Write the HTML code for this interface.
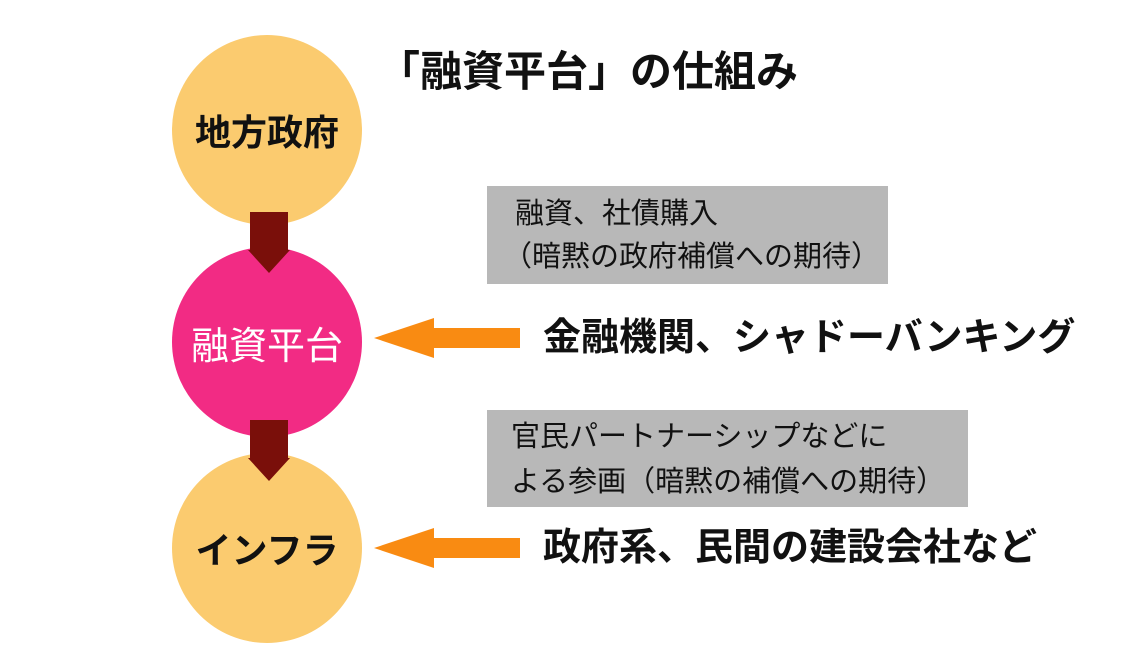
<!DOCTYPE html>
<html><head><meta charset="utf-8"><style>
body{margin:0;width:1143px;height:653px;background:#fff;position:relative;overflow:hidden;font-family:"Liberation Sans","Noto Sans CJK JP",sans-serif;}
.a{position:absolute;white-space:nowrap;}
.c{position:absolute;border-radius:50%;width:190px;height:190px;display:flex;align-items:center;justify-content:center;}
.box{position:absolute;background:#b8b8b8;}
.t{position:absolute;white-space:nowrap;font-size:29px;line-height:29px;color:#111;}
</style></head><body>
<div class="a" style="left:378px;top:47px;font-size:42px;font-weight:bold;line-height:50px;color:#111;">「融資平台」の仕組み</div>
<div class="c" style="left:172px;top:35px;background:#fbcb6f;font-size:36px;font-weight:bold;color:#111;">地方政府</div>
<div class="c" style="left:172px;top:247px;background:#f22b84;font-size:38px;color:#fff;">融資平台</div>
<div class="c" style="left:172px;top:453px;background:#fbcb6f;font-size:36px;font-weight:bold;color:#111;">インフラ</div>
<svg class="a" style="left:0;top:0" width="1143" height="653">
<polygon points="250,212 288,212 288,250 290,250 269,273 248,250 250,250" fill="#7a0f0a"/>
<polygon points="250,420 288,420 288,458 290,458 269,481 248,458 250,458" fill="#7a0f0a"/>
<polygon points="520,328 434,328 434,318 374,338 434,358 434,348 520,348" fill="#f98b12"/>
<polygon points="520,538 434,538 434,528 374,548 434,568 434,558 520,558" fill="#f98b12"/>
</svg>
<div class="box" style="left:487px;top:186px;width:401px;height:98px;"></div>
<div class="t" style="left:515px;top:200px;">融資、社債購入</div>
<div class="t" style="left:503px;top:243px;">（暗黙の政府補償への期待）</div>
<div class="box" style="left:487px;top:410px;width:481px;height:97px;"></div>
<div class="t" style="left:511px;top:423px;">官民パートナーシップなどに</div>
<div class="t" style="left:511px;top:468px;">よる参画（暗黙の補償への期待）</div>
<div class="a" style="left:543px;top:315px;font-size:38px;font-weight:bold;line-height:46px;color:#111;">金融機関、シャドーバンキング</div>
<div class="a" style="left:543px;top:525px;font-size:38px;font-weight:bold;line-height:46px;color:#111;">政府系、民間の建設会社など</div>
</body></html>
